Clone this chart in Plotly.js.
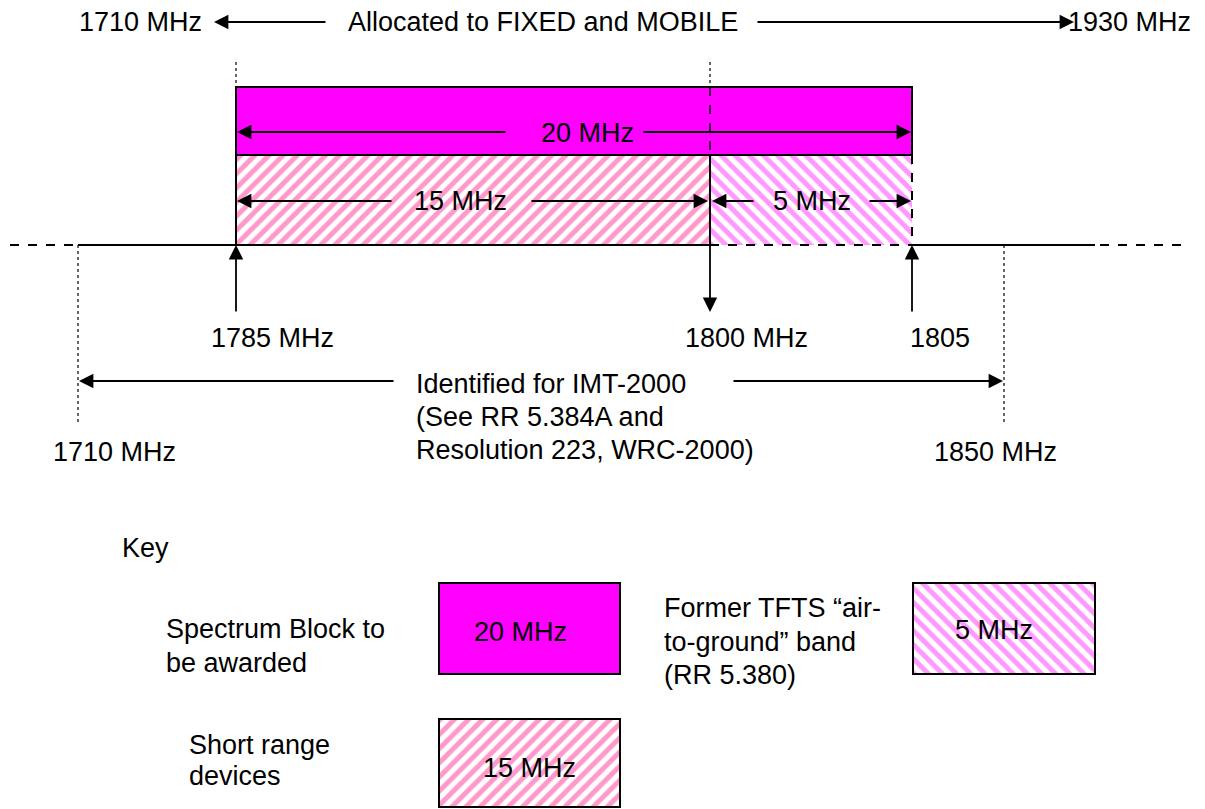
<!DOCTYPE html>
<html>
<head>
<meta charset="utf-8">
<script src="https://cdn.plot.ly/plotly-3.0.1.min.js"></script>
<style>html,body{margin:0;padding:0;background:#fff;}#chart{width:1205px;height:809px;}</style>
</head>
<body>
<div id="chart"></div>
<script>
// ---- data (MHz) ----
const bandNames    = ["Spectrum Block to be awarded", "Short range devices", "Former TFTS air-to-ground band"];
const bandStart    = [1785, 1785, 1800];
const bandEnd      = [1805, 1800, 1805];
const bandLabels   = ["20 MHz", "15 MHz", "5 MHz"];
const markerFreqs  = [1785, 1800, 1805];
const markerLabels = ["1785 MHz", "1800 MHz", "1805"];
const imtRange     = [1710, 1850];
const imtLabels    = ["1710 MHz", "1850 MHz"];
const imtText      = ["Identified for IMT-2000", "(See RR 5.384A and", "Resolution 223, WRC-2000)"];
const allocLabels  = ["1710 MHz", "1930 MHz"];
const allocText    = "Allocated to FIXED and MOBILE";
const keyTitle     = "Key";
const keyText      = [["Spectrum Block to", "be awarded"], ["Short range", "devices"], ["Former TFTS \u201Cair-", "to-ground\u201D band", "(RR 5.380)"]];

// ---- schematic (non-linear) frequency -> drawing position ----
const fAnchor = [1710, 1785, 1800, 1805, 1850];
const pAnchor = [78, 236, 710, 912, 1004];
function fx(f){
  for(let i=0;i<fAnchor.length-1;i++){
    if(f<=fAnchor[i+1]){
      const t=(f-fAnchor[i])/(fAnchor[i+1]-fAnchor[i]);
      return pAnchor[i]+t*(pAnchor[i+1]-pAnchor[i]);
    }
  }
  return pAnchor[pAnchor.length-1];
}

const MAG = "#FF00FF", SRD = "#FF99CC", TFTS = "#FF99FF";
const FONT = {family:"Liberation Sans, Arial, sans-serif", size:27, color:"#000"};
const LW = 2;

const rowTop=87, rowMid=155, rowBase=245;

const traces = [];
function barTrace(x0,x1,y0,y1,fill,pattern,name){
  const m = {color:fill, line:{width:0}};
  if(pattern) m.pattern = {shape:pattern.shape, fgcolor:pattern.fg, fgopacity:1, bgcolor:"#fff", fillmode:"replace", size:10, solidity:0.5};
  return {type:"bar", x:[(x0+x1)/2], width:[x1-x0], base:[y0], y:[y1-y0],
    marker:m, name:name, hoverinfo:"skip", showlegend:false};
}
const xs = fx(bandStart[0]), xm = fx(bandStart[2]), xe = fx(bandEnd[0]);
traces.push(barTrace(fx(bandStart[0]), fx(bandEnd[0]), rowTop, rowMid, MAG, null, bandNames[0]));
traces.push(barTrace(fx(bandStart[1]), fx(bandEnd[1]), rowMid, rowBase, "#fff", {shape:"/", fg:SRD}, bandNames[1]));
traces.push(barTrace(fx(bandStart[2]), fx(bandEnd[2]), rowMid, rowBase, "#fff", {shape:"\\", fg:TFTS}, bandNames[2]));
const keyBoxes = [
  {x0:439, x1:620, y0:583, y1:674, idx:0, fill:MAG, pat:null, tx:520, ty:632},
  {x0:439, x1:620, y0:719, y1:807, idx:1, fill:"#fff", pat:{shape:"/", fg:SRD}, tx:529, ty:768},
  {x0:913, x1:1095, y0:583, y1:674, idx:2, fill:"#fff", pat:{shape:"\\", fg:TFTS}, tx:994, ty:630}
];
keyBoxes.forEach(k=>traces.push(barTrace(k.x0,k.x1,k.y0,k.y1,k.fill,k.pat,bandNames[k.idx])));

const shapes = [];
function line(x0,y0,x1,y1,dash,w){
  shapes.push({type:"line", xref:"x", yref:"y", x0:x0,y0:y0,x1:x1,y1:y1, layer:"above",
    line:{color:"#000", width:w||LW, dash:dash||"solid"}});
}
function rect(x0,y0,x1,y1,dash){
  shapes.push({type:"rect", xref:"x", yref:"y", x0:x0,y0:y0,x1:x1,y1:y1, layer:"above",
    fillcolor:"rgba(0,0,0,0)", line:{color:"#000", width:LW, dash:dash||"solid"}});
}
rect(xs,rowTop,xe,rowMid);
rect(xs,rowMid,xm,rowBase);
line(xm,rowMid,xe,rowMid,"dash",LW);
line(xe,rowMid,xe,rowBase,"dash",LW);
line(xm,rowBase,xe,rowBase,"dash",LW);
// baseline
line(10,rowBase,fx(imtRange[0]),rowBase,"dash",LW);
line(fx(imtRange[0]),rowBase,xs,rowBase,"solid",LW);
line(xe,rowBase,1095,rowBase,"solid",LW);
line(1100,rowBase,1190,rowBase,"dash",LW);
// guides
line(xs,62,xs,rowTop,"dot",1.2);
line(xm,62,xm,rowTop,"dot",1.2);
line(xm,rowTop,xm,rowMid,"dash",1.5);
line(fx(imtRange[0]),rowBase,fx(imtRange[0]),423,"dot",1.2);
line(fx(imtRange[1]),rowBase,fx(imtRange[1]),423,"dot",1.2);
keyBoxes.forEach(k=>rect(k.x0,k.y0,k.x1,k.y1));

const ann = [];
function arrow(hx,hy,tx,ty){
  ann.push({x:hx,y:hy,ax:tx,ay:ty,xref:"x",yref:"y",axref:"x",ayref:"y",text:"",
    showarrow:true, arrowhead:2, arrowsize:1.6, arrowwidth:1.8, arrowcolor:"#000", standoff:0, startstandoff:0});
}
function txt(x,y,t,anchor){
  ann.push({x:x,y:y,xref:"x",yref:"y",text:t,showarrow:false,font:FONT,
    xanchor:anchor||"center", yanchor:"middle", align:"left"});
}
function lines(x,ys,arr){ arr.forEach((t,i)=>txt(x,ys[i],t,"left")); }

// top allocation row
txt(77,22,allocLabels[0],"left");
arrow(214,22,327,22);
txt(543,22,allocText);
arrow(1074,22,756,22);
txt(1193,22,allocLabels[1],"right");
// 20 MHz
arrow(xs+1,132,507,132); arrow(xe-1,132,642,132);
txt(587,133,bandLabels[0]);
// 15 MHz
arrow(xs+1,201,393,201); arrow(xm-2,201,530,201);
txt(460,201,bandLabels[1]);
// 5 MHz
arrow(xm+2,201,755,201); arrow(xe-1,201,868,201);
txt(812,201,bandLabels[2]);
// frequency markers
arrow(fx(markerFreqs[0]),rowBase,fx(markerFreqs[0]),313);
arrow(fx(markerFreqs[1]),312,fx(markerFreqs[1]),rowMid);
arrow(fx(markerFreqs[2]),rowBase,fx(markerFreqs[2]),313);
txt(272,338,markerLabels[0]);
txt(746,338,markerLabels[1]);
txt(940,338,markerLabels[2]);
// IMT
arrow(fx(imtRange[0])+1,381,395,381);
arrow(fx(imtRange[1])-1,381,732,381);
lines(414,[384,417,450],imtText);
txt(114,452,imtLabels[0]);
txt(995,452,imtLabels[1]);
// Key
txt(120,548,keyTitle,"left");
lines(164,[629,663],keyText[0]);
lines(187,[745,776],keyText[1]);
lines(662,[608,642,675],keyText[2]);
keyBoxes.forEach(k=>txt(k.tx,k.ty,bandLabels[k.idx]));

const layout = {
  width:1205, height:809, margin:{l:0,r:0,t:0,b:0},
  paper_bgcolor:"#fff", plot_bgcolor:"#fff",
  xaxis:{range:[0,1205], visible:false, fixedrange:true},
  yaxis:{range:[809,0], visible:false, fixedrange:true},
  barmode:"overlay", showlegend:false,
  shapes:shapes, annotations:ann
};
Plotly.newPlot("chart", traces, layout, {staticPlot:true, displayModeBar:false});
</script>
</body>
</html>
